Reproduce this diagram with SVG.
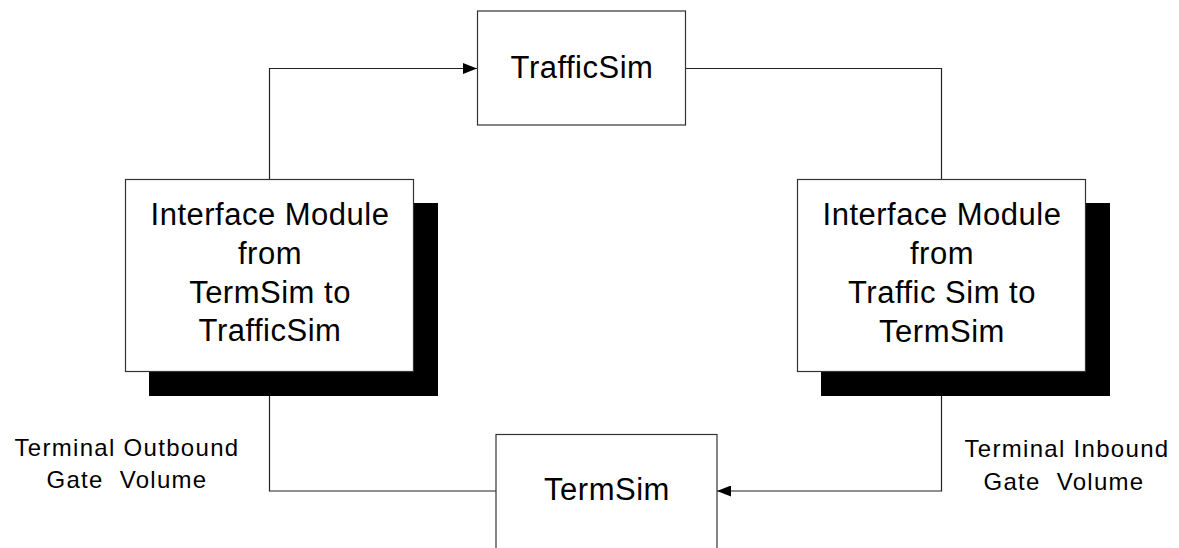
<svg xmlns="http://www.w3.org/2000/svg" width="1179" height="548" viewBox="0 0 1179 548">
<style>
.box{fill:#fff;stroke:#333;stroke-width:1.2}
.shadow{fill:#000}
.conn{fill:none;stroke:#222;stroke-width:1.2}
.t{font-family:"Liberation Sans",Arial,sans-serif;font-size:31px;letter-spacing:0.5px;fill:#000;text-anchor:middle}
.lbl{font-family:"Liberation Sans",Arial,sans-serif;font-size:24px;letter-spacing:1.3px;fill:#000;text-anchor:middle;white-space:pre}
</style>
<defs>
<marker id="arr" viewBox="0 0 14 11" refX="14" refY="5.5" markerWidth="14" markerHeight="11" markerUnits="userSpaceOnUse" orient="auto">
<path d="M0,0 L14,5.5 L0,11 z" fill="#000"/>
</marker>
</defs>
<g id="connectors">
<path class="conn" d="M269.5,179 V68.5 H477" marker-end="url(#arr)"/>
<path class="conn" d="M686,68.5 H941.5 V179"/>
<path class="conn" d="M941.5,396 V491 H717" marker-end="url(#arr)"/>
<path class="conn" d="M269.5,396 V491 H496"/>
</g>
<g id="trafficsim">
<rect class="box" x="477.5" y="11" width="208" height="114"/>
<text class="t" x="582" y="78">TrafficSim</text>
</g>
<g id="termsim">
<rect class="box" x="496" y="434.5" width="221" height="140"/>
<text class="t" x="607" y="500">TermSim</text>
</g>
<g id="iface-left">
<rect class="shadow" x="149" y="203" width="289" height="193"/>
<rect class="box" x="125.5" y="179.5" width="288" height="192"/>
<text class="t" x="270" y="225">Interface Module</text>
<text class="t" x="270" y="264">from</text>
<text class="t" x="270" y="303">TermSim to</text>
<text class="t" x="270" y="341">TrafficSim</text>
</g>
<g id="iface-right">
<rect class="shadow" x="821" y="203" width="289" height="193"/>
<rect class="box" x="797.5" y="179.5" width="288" height="192"/>
<text class="t" x="942" y="225">Interface Module</text>
<text class="t" x="942" y="264">from</text>
<text class="t" x="942" y="303">Traffic Sim to</text>
<text class="t" x="942" y="342">TermSim</text>
</g>
<g id="label-outbound">
<text class="lbl" x="127" y="456">Terminal Outbound</text>
<text class="lbl" x="127" y="488">Gate  Volume</text>
</g>
<g id="label-inbound">
<text class="lbl" x="1067" y="457">Terminal Inbound</text>
<text class="lbl" x="1064" y="490">Gate  Volume</text>
</g>
</svg>
